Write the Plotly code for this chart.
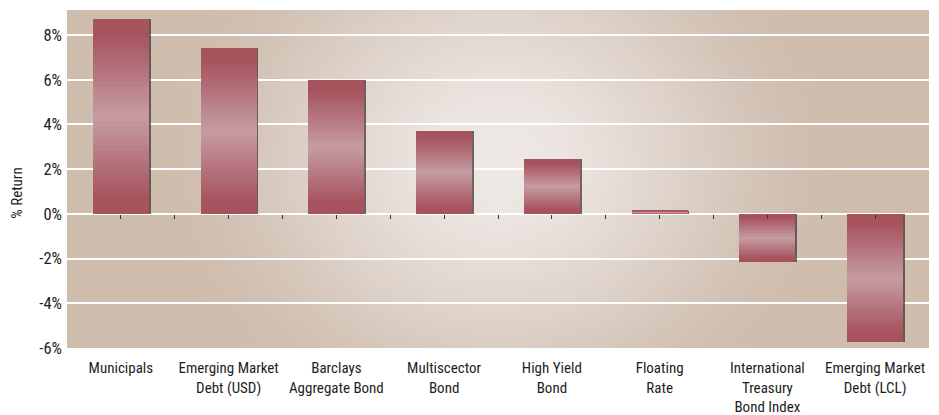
import base64, struct, zlib
import plotly.graph_objects as go

# ---- data ----
categories = ["Municipals", "Emerging Market Debt (USD)", "Barclays Aggregate Bond",
              "Multiscector Bond", "High Yield Bond", "Floating Rate",
              "International Treasury Bond Index", "Emerging Market Debt (LCL)"]
tick_labels = ["Municipals", "Emerging Market<br>Debt (USD)", "Barclays<br>Aggregate Bond",
               "Multiscector<br>Bond", "High Yield<br>Bond", "Floating<br>Rate",
               "International<br>Treasury<br>Bond Index", "Emerging Market<br>Debt (LCL)"]
returns = [8.72, 7.43, 6.0, 3.71, 2.44, 0.15, -2.16, -5.75]
y_tickvals = [-6, -4, -2, 0, 2, 4, 6, 8]
y_ticktext = ["-6%", "-4%", "-2%", "0%", "2%", "4%", "6%", "8%"]

# ---- background radial gradient image (PNG built by hand) ----
def make_png(w, h):
    c_in = (238, 232, 229)
    c_out = (206, 188, 173)
    rows = []
    for j in range(h):
        v = j / (h - 1)
        row = bytearray([0])
        for i in range(w):
            u = i / (w - 1)
            d = (((u - 0.5) / 0.42) ** 2 + ((v - 0.45) / 0.95) ** 2) ** 0.5
            t = min(1.0, d)
            t = t * t * (3 - 2 * t)
            for k in range(3):
                row.append(int(round(c_in[k] + (c_out[k] - c_in[k]) * t)))
        rows.append(bytes(row))
    raw = b"".join(rows)

    def chunk(tag, data):
        c = struct.pack(">I", len(data)) + tag + data
        return c + struct.pack(">I", zlib.crc32(tag + data) & 0xffffffff)

    png = b"\x89PNG\r\n\x1a\n"
    png += chunk(b"IHDR", struct.pack(">IIBBBBB", w, h, 8, 2, 0, 0, 0))
    png += chunk(b"IDAT", zlib.compress(raw, 9))
    png += chunk(b"IEND", b"")
    return "data:image/png;base64," + base64.b64encode(png).decode()

bg_img = make_png(240, 100)

FONT = "Roboto Condensed, sans-serif"
FS = 15

fig = go.Figure()

# shadow behind bars
fig.add_trace(go.Bar(x=categories, y=returns, width=0.52, offset=-0.245,
                     marker=dict(color="rgba(70,55,55,0.75)", line=dict(width=0)),
                     hoverinfo="skip", showlegend=False))

# gradient bars built from stacked segments
N = 40
dark = (166, 83, 94)
light = (198, 156, 162)
for i in range(N):
    t = (i + 0.5) / N
    w = max(0.0, 1 - abs(t - 0.5) / 0.42)
    col = tuple(int(round(dark[k] + (light[k] - dark[k]) * w)) for k in range(3))
    frac_h = min(2, N - i) / N
    bases = [v * i / N for v in returns]
    heights = [v * frac_h for v in returns]
    fig.add_trace(go.Bar(x=categories, y=heights, base=bases, width=0.52, offset=-0.26,
                         marker=dict(color="rgb(%d,%d,%d)" % col, line=dict(width=0)),
                         hoverinfo="skip", showlegend=False))

# dummy trace for tick axis at zero
fig.add_trace(go.Scatter(x=[0], y=[0], xaxis="x2", mode="markers",
                         marker=dict(opacity=0), hoverinfo="skip", showlegend=False))

ymin, ymax = -6, 9.12
fig.update_layout(
    width=939, height=415,
    margin=dict(l=67, r=10, t=10, b=67),
    paper_bgcolor="white",
    plot_bgcolor="rgba(0,0,0,0)",
    barmode="overlay",
    bargap=0,
    font=dict(family=FONT, size=FS, color="#1e1e1e"),
    images=[dict(source=bg_img, xref="paper", yref="paper", x=0, y=1,
                 sizex=1, sizey=1, sizing="stretch", layer="below")],
    xaxis=dict(type="category", range=[-0.5, 7.5], tickvals=categories, ticktext=tick_labels,
               showgrid=False, zeroline=False, showline=False, ticks="",
               ticklabelstandoff=9, automargin=False,
               tickfont=dict(family=FONT, size=FS, color="#1e1e1e")),
    xaxis2=dict(overlaying="x", anchor="free", position=(0 - ymin) / (ymax - ymin),
                range=[-0.5, 7.5], tickvals=[k * 0.5 for k in range(15)],
                showticklabels=False, ticks="outside", ticklen=4, tickwidth=1,
                tickcolor="#333333", showgrid=False, zeroline=False, showline=False),
    yaxis=dict(range=[ymin, ymax], tickvals=y_tickvals, ticktext=y_ticktext,
               showgrid=True, gridcolor="white", gridwidth=2,
               zeroline=True, zerolinecolor="white", zerolinewidth=2,
               showline=False, ticks="", ticklen=0, ticklabelstandoff=4, automargin=False,
               tickfont=dict(family=FONT, size=16.5, color="#1e1e1e")),
    annotations=[dict(text="% Return", xref="paper", yref="y", x=-0.058, y=0.9,
                      textangle=-90, showarrow=False, xanchor="center", yanchor="middle",
                      font=dict(family=FONT, size=FS, color="#1e1e1e"))],
)

fig.write_html("out.html")
